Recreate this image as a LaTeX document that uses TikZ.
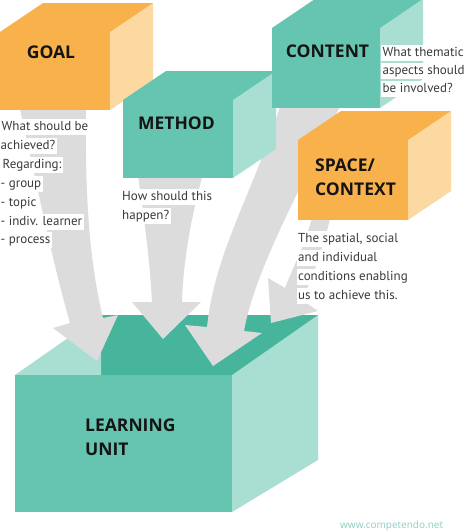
\documentclass[tikz,border=0pt]{standalone}
\usepackage{fontspec}
\setmainfont{PT Sans}
\newfontfamily\headfont{Open Sans}
\definecolor{orangeF}{HTML}{F9B14C}
\definecolor{orangeL}{HTML}{FCD9A1}
\definecolor{tealF}{HTML}{66C5B1}
\definecolor{tealL}{HTML}{A9DFD3}
\definecolor{tealD}{HTML}{47B49C}
\definecolor{arrowG}{HTML}{DCDCDC}
\definecolor{headC}{HTML}{141414}
\definecolor{bodyC}{HTML}{3A3A3A}
\definecolor{markC}{HTML}{8BD0C2}
\tikzset{
  head/.style={font=\headfont\bfseries\fontsize{17.5}{20}\selectfont, text=headC, inner sep=0pt},
  body/.style={font=\fontsize{13}{19}\selectfont, text=bodyC, fill=white, inner sep=1.5pt,
    text height=9.5pt, text depth=3pt, anchor=base west},
  bigarrow/.style={fill=arrowG},
}
% #1 x, #2 y (front top-left), #3 w, #4 h, #5 front colour, #6 side colour
\newcommand\mycube[6]{%
  \fill[#6] (#1+#3,#2) -- ++(43,-29) -- ++(0,#4) -- (#1+#3,#2+#4) -- cycle;
  \fill[#5] (#1,#2) -- ++(43,-29) -- ++(#3,0) -- (#1+#3,#2) -- cycle;
  \fill[#5] (#1,#2) rectangle ++(#3,#4);
}
\begin{document}
\begin{tikzpicture}[x=1pt,y=-1pt]
\useasboundingbox (0,0) rectangle (474,531);
\fill[white] (0,0) rectangle (474,531);
% learning unit box
\fill[tealL] (232,375) -- (318,315) -- (318,460) -- (232,512) -- cycle;
\fill[tealD] (101,315) -- (318,315) -- (232,375) -- (101,375) -- cycle;
\fill[tealL] (15,375) -- (101,315) -- (101,375) -- cycle;
\fill[tealF] (15,375) rectangle (232,512);
% arrows
\fill[bigarrow] (18,100) .. controls (38,190) and (52,260) .. (70,323) -- (53,328) -- (97,361)
   -- (118,315) -- (103,318) .. controls (88,255) and (85,190) .. (86,100) -- cycle;
\fill[bigarrow] (137,170) .. controls (145,220) and (150,265) .. (152,302) -- (132,302) -- (163,339)
   -- (201,302) -- (182,302) .. controls (183,265) and (190,220) .. (204,170) -- cycle;
\fill[bigarrow] (282,100) .. controls (255,190) and (215,250) .. (207,327) -- (185,325) -- (213,366)
   -- (262,333) -- (244,331) .. controls (255,270) and (300,190) .. (343,100) -- cycle;
\fill[bigarrow] (315,205) .. controls (308,240) and (295,262) .. (285,288) -- (268,278) -- (271,323)
   -- (318,311) -- (302,300) .. controls (314,275) and (326,240) .. (333,205) -- cycle;
% upper boxes
\mycube{0}{32}{110}{78}{orangeF}{orangeL}
\mycube{123}{100}{110}{78}{tealF}{tealL}
\mycube{272}{28}{108}{80}{tealF}{tealL}
\mycube{298}{140}{110}{80}{orangeF}{orangeL}
% headings
\node[head] (goal) at (51,52) {GOAL};
\node[head] (method) at (176.5,123.5) {METHOD};
\node[head] (content) at (327.5,51.5) {CONTENT};
\node[head, anchor=base west] (space1) at (315,171) {SPACE/};
\node[head, anchor=base west] (space2) at (315,195) {CONTEXT};
\node[head, anchor=base west] (lu1) at (85,431) {LEARNING};
\node[head, anchor=base west] (lu2) at (85,455) {UNIT};
% goal text
\node[body] (g1) at (0,130) {What should be};
\node[body] (g2) at (-1,149) {achieved?};
\node[body] (g3) at (1,168) {Regarding:};
\node[body] (g4) at (-1,187) {- group};
\node[body] (g5) at (-1,206) {- topic};
\node[body] (g6) at (-1,225) {- indiv. learner};
\node[body] (g7) at (-1,243) {- process};
% method text
\node[body] (m1) at (120.5,200) {How should this};
\node[body] (m2) at (120.5,219) {happen?};
% content text
\node[body] (c1) at (381,56) {What thematic};
\node[body] (c2) at (381,74) {aspects should};
\node[body] (c3) at (381,92) {be involved?};
% space text
\node[body] (s1) at (296.5,242) {The spatial, social};
\node[body] (s2) at (296.5,261) {and individual};
\node[body] (s3) at (296.5,280) {conditions enabling};
\node[body] (s4) at (296.5,299) {us to achieve this.};
% watermark
\node[font=\headfont\fontsize{10}{12}\selectfont, text=markC, anchor=base west, inner sep=0pt] (mark) at (340,528) {www.competendo.net};
\end{tikzpicture}
\end{document}
